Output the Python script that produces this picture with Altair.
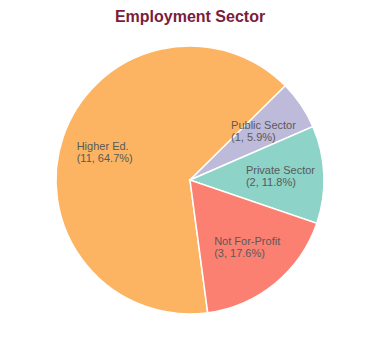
import math
import altair as alt
import pandas as pd

sectors = ["Higher Ed.", "Public Sector", "Private Sector", "Not For-Profit"]
counts = [11, 1, 2, 3]
percents = ["64.7%", "5.9%", "11.8%", "17.6%"]
colors = ["#FDB462", "#BEBADA", "#8DD3C7", "#FB8072"]

df = pd.DataFrame({
    "sector": sectors,
    "count": counts,
    "order": list(range(len(sectors))),
    "label": [f"{s}\n({c}, {p})" for s, c, p in zip(sectors, counts, percents)],
})

start = math.radians(172.4)
theta_scale = alt.Scale(range=[start, start + 2 * math.pi])

base = alt.Chart(df).encode(
    theta=alt.Theta("count:Q", stack=True, scale=theta_scale),
    order=alt.Order("order:Q"),
)

arcs = base.mark_arc(outerRadius=134, stroke="white", strokeWidth=1.5).encode(
    color=alt.Color("sector:N", scale=alt.Scale(domain=sectors, range=colors), legend=None)
)

labels = base.mark_text(
    radius=87, align="left", baseline="middle", dx=-31, dy=-5, lineBreak="\n",
    fontSize=11, font="Liberation Sans", color="#595959", lineHeight=12,
).encode(text="label:N")

chart = (arcs + labels).properties(
    width=364,
    height=304,
    title=alt.TitleParams(
        "Employment Sector", fontSize=16, font="Liberation Sans", fontWeight="bold",
        color="#7B1C3C", anchor="middle", offset=3,
    ),
    padding={"top": 20, "left": 0, "right": 0, "bottom": 0},
    autosize=alt.AutoSizeParams(type="none"),
).configure_view(stroke=None)

chart.save("out.html", embed_options={"renderer": "svg", "actions": False})
